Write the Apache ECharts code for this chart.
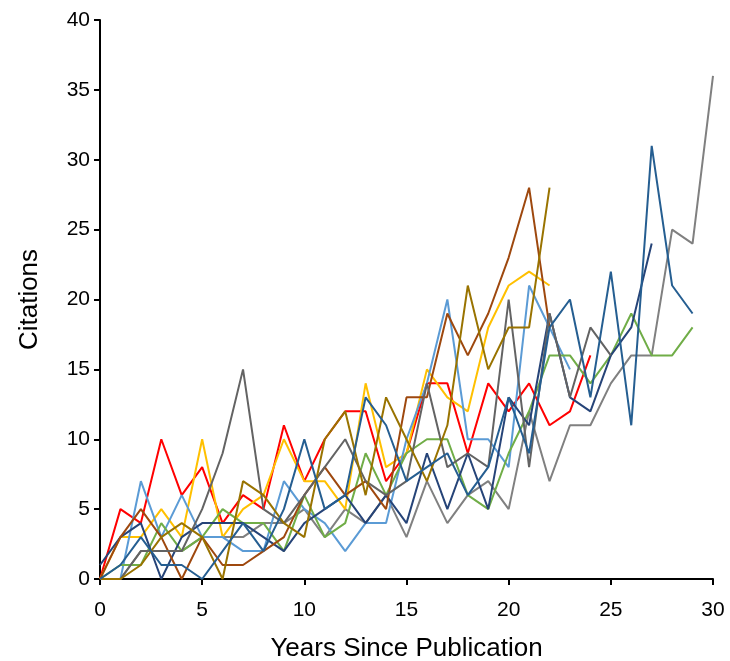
<!DOCTYPE html>
<html>
<head>
<meta charset="utf-8">
<script src="https://cdn.jsdelivr.net/npm/echarts@6/dist/echarts.min.js"></script>
<style>
html,body{margin:0;padding:0;background:#fff;}
#chart{width:730px;height:661px;}
</style>
</head>
<body>
<div id="chart"></div>
<script>
// Citations per year since publication (index = years since publication)
const red       = [0,5,4,10,6,8,4,6,5,11,7,10,12,12,7,9,14,14,9,14,12,14,11,12,16];
const lightGray = [0,0,2,2,2,3,3,3,4,4,5,3,5,4,6,3,7,4,6,7,5,12,7,11,11,14,16,16,25,24,36];
const yellow    = [0,3,3,5,3,10,3,5,6,10,7,7,5,14,8,9,15,13,12,18,21,22,21];
const lightBlue = [0,0,7,3,6,3,3,2,2,7,5,4,2,4,4,10,14,20,10,10,8,21,18,15];
const green     = [0,1,1,4,2,3,5,4,4,2,6,3,4,9,6,9,10,10,6,5,9,12,16,16,14,16,19,16,16,18];
const darkBlue  = [1,3,4,0,3,4,4,4,3,2,4,5,6,4,6,4,9,5,9,5,13,11,19,13,12,16,18,24];
const brown     = [0,3,5,3,0,3,1,1,2,3,6,8,6,7,5,13,13,19,16,19,23,28,18];
const darkGray  = [0,0,2,2,2,5,9,15,5,4,6,8,10,7,6,7,14,8,9,8,20,8,19,13,18,16];
const olive     = [0,0,1,3,4,3,0,7,6,4,3,10,12,6,13,10,7,11,21,15,18,18,28];
const steelBlue = [0,1,3,1,1,0,2,4,2,5,10,5,6,13,11,7,8,9,6,8,13,9,18,20,13,22,11,31,21,19];

const xTitle = 'Years Since Publication';
const yTitle = 'Citations';

const seriesList = [
  {name:'A', data:red,       color:'#FF0000'},
  {name:'B', data:lightGray, color:'#808080'},
  {name:'C', data:yellow,    color:'#FFC000'},
  {name:'D', data:lightBlue, color:'#5B9BD5'},
  {name:'E', data:green,     color:'#70AD47'},
  {name:'F', data:darkBlue,  color:'#264478'},
  {name:'G', data:brown,     color:'#9E480E'},
  {name:'H', data:darkGray,  color:'#636363'},
  {name:'I', data:olive,     color:'#997300'},
  {name:'J', data:steelBlue, color:'#255E91'}
];

const chart = echarts.init(document.getElementById('chart'), null, {renderer:'canvas'});
const font = 'Liberation Sans, Arial, sans-serif';
chart.setOption({
  animation:false,
  backgroundColor:'#ffffff',
  grid:{left:100, right:17, top:20, bottom:82, containLabel:false, outerBoundsMode:'none'},
  xAxis:{
    type:'value', min:0, max:30, interval:5,
    name:xTitle, nameLocation:'middle', nameGap:57,
    nameTextStyle:{fontFamily:font, fontSize:26, color:'#000'},
    axisLine:{show:true, onZero:false, lineStyle:{color:'#000', width:2}},
    axisTick:{show:true, length:6, lineStyle:{color:'#000', width:2}},
    axisLabel:{fontFamily:font, fontSize:21, color:'#000', margin:21},
    splitLine:{show:false}
  },
  yAxis:{
    type:'value', min:0, max:40, interval:5,
    name:yTitle, nameLocation:'middle', nameGap:57,
    nameTextStyle:{fontFamily:font, fontSize:26, color:'#000'},
    axisLine:{show:true, onZero:false, lineStyle:{color:'#000', width:2}},
    axisTick:{show:true, length:6, lineStyle:{color:'#000', width:2}},
    axisLabel:{fontFamily:font, fontSize:21, color:'#000', margin:10},
    splitLine:{show:false}
  },
  series: seriesList.map(s => ({
    name:s.name, type:'line', showSymbol:false, symbol:'none',
    data:s.data.map((v,i)=>[i,v]),
    lineStyle:{color:s.color, width:2},
    itemStyle:{color:s.color}
  }))
});
</script>
</body>
</html>
